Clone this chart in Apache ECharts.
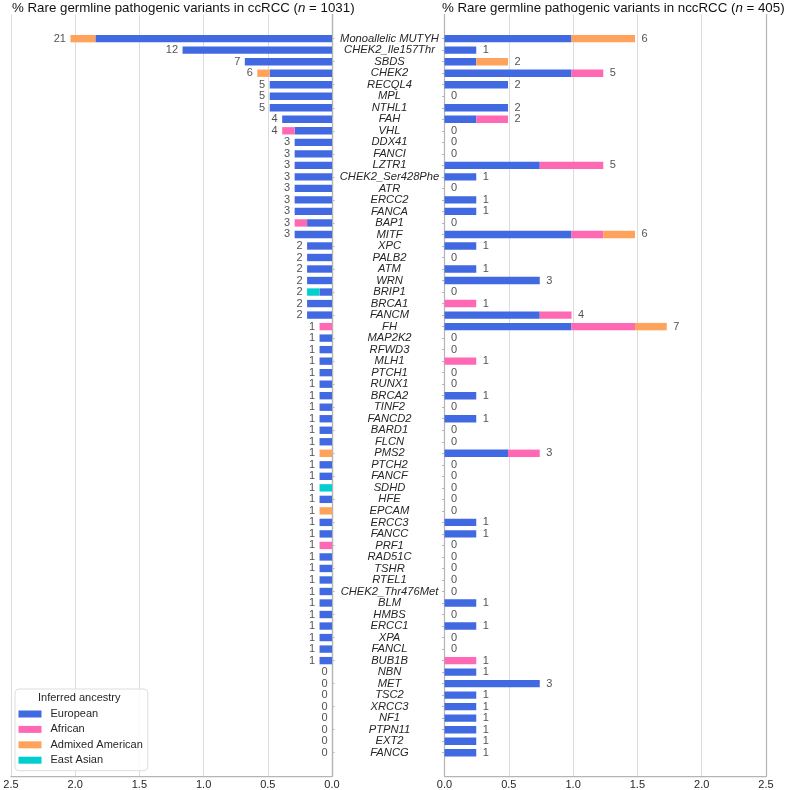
<!DOCTYPE html>
<html><head><meta charset="utf-8">
<script src="https://cdn.jsdelivr.net/npm/echarts@6/dist/echarts.min.js"></script>
<style>html,body{margin:0;padding:0;background:#fff}#c{width:787px;height:790px}</style>
</head><body><div id="c"></div>
<script>
const genes = ["Monoallelic MUTYH","CHEK2_Ile157Thr","SBDS","CHEK2","RECQL4","MPL","NTHL1","FAH","VHL","DDX41",
"FANCI","LZTR1","CHEK2_Ser428Phe","ATR","ERCC2","FANCA","BAP1","MITF","XPC","PALB2",
"ATM","WRN","BRIP1","BRCA1","FANCM","FH","MAP2K2","RFWD3","MLH1","PTCH1",
"RUNX1","BRCA2","TINF2","FANCD2","BARD1","FLCN","PMS2","PTCH2","FANCF","SDHD",
"HFE","EPCAM","ERCC3","FANCC","PRF1","RAD51C","TSHR","RTEL1","CHEK2_Thr476Met","BLM",
"HMBS","ERCC1","XPA","FANCL","BUB1B","NBN","MET","TSC2","XRCC3","NF1",
"PTPN11","EXT2","FANCG"];
const nCc = 1031, nNcc = 405;
const ancestries = ["European","African","Admixed American","East Asian"];
// counts per ancestry, ccRCC
const ccEur = [19,12,7,5,5,5,5,4,3,3, 3,3,3,3,3,3,2,3,2,2, 2,2,1,2,2,0,1,1,1,1, 1,1,1,1,1,1,0,1,1,0, 1,0,1,1,0,1,1,1,1,1, 1,1,1,1,1,0,0,0,0,0, 0,0,0];
const ccAfr = [0,0,0,0,0,0,0,0,1,0, 0,0,0,0,0,0,1,0,0,0, 0,0,0,0,0,1,0,0,0,0, 0,0,0,0,0,0,0,0,0,0, 0,0,0,0,1,0,0,0,0,0, 0,0,0,0,0,0,0,0,0,0, 0,0,0];
const ccAmr = [2,0,0,1,0,0,0,0,0,0, 0,0,0,0,0,0,0,0,0,0, 0,0,0,0,0,0,0,0,0,0, 0,0,0,0,0,0,1,0,0,0, 0,1,0,0,0,0,0,0,0,0, 0,0,0,0,0,0,0,0,0,0, 0,0,0];
const ccEas = [0,0,0,0,0,0,0,0,0,0, 0,0,0,0,0,0,0,0,0,0, 0,0,1,0,0,0,0,0,0,0, 0,0,0,0,0,0,0,0,0,1, 0,0,0,0,0,0,0,0,0,0, 0,0,0,0,0,0,0,0,0,0, 0,0,0];
// counts per ancestry, nccRCC
const ncEur = [4,1,1,4,2,0,2,1,0,0, 0,3,1,0,1,1,0,4,1,0, 1,3,0,0,3,4,0,0,0,0, 0,1,0,1,0,0,2,0,0,0, 0,0,1,1,0,0,0,0,0,1, 0,1,0,0,0,1,3,1,1,1, 1,1,1];
const ncAfr = [0,0,0,1,0,0,0,1,0,0, 0,2,0,0,0,0,0,1,0,0, 0,0,0,1,1,2,0,0,1,0, 0,0,0,0,0,0,1,0,0,0, 0,0,0,0,0,0,0,0,0,0, 0,0,0,0,1,0,0,0,0,0, 0,0,0];
const ncAmr = [2,0,1,0,0,0,0,0,0,0, 0,0,0,0,0,0,0,1,0,0, 0,0,0,0,0,1,0,0,0,0, 0,0,0,0,0,0,0,0,0,0, 0,0,0,0,0,0,0,0,0,0, 0,0,0,0,0,0,0,0,0,0, 0,0,0];
const ncEas = [0,0,0,0,0,0,0,0,0,0, 0,0,0,0,0,0,0,0,0,0, 0,0,0,0,0,0,0,0,0,0, 0,0,0,0,0,0,0,0,0,0, 0,0,0,0,0,0,0,0,0,0, 0,0,0,0,0,0,0,0,0,0, 0,0,0];
const xTicks = [0, 0.5, 1.0, 1.5, 2.0, 2.5];

const colors = {"European":"#4169E1","African":"#FF69B4","Admixed American":"#FFA35C","East Asian":"#00CED1"};
const FONT = '"Liberation Sans", Arial, "DejaVu Sans", sans-serif';
const spine = '#b5b5b5', gridc = '#dcdcdc', txt = '#262626';

const pct = (arr, n) => arr.map(v => v / n * 100);
const ccSets = [ccEur, ccAfr, ccAmr, ccEas];
const ncSets = [ncEur, ncAfr, ncAmr, ncEas];
const ccTot = genes.map((g,i) => ccSets.reduce((s,a)=>s+a[i],0));
const ncTot = genes.map((g,i) => ncSets.reduce((s,a)=>s+a[i],0));

const chart = echarts.init(document.getElementById('c'), null, {renderer:'canvas'});

const frameTop = 14.5, frameBottom = 12;
const barTop = 32.9, barBottom = 31.5;
const L = {left:11, right:455}, R = {left:444.5, right:21};

const grids = [
  {left:L.left, right:L.right, top:frameTop, bottom:frameBottom},
  {left:L.left, right:L.right, top:barTop, bottom:barBottom},
  {left:R.left, right:R.right, top:frameTop, bottom:frameBottom},
  {left:R.left, right:R.right, top:barTop, bottom:barBottom}
];
function frameX(gi, inverse) {
  return {type:'value', gridIndex:gi, min:0, max:2.5, interval:0.5, inverse:inverse,
    axisLine:{show:true, onZero:false, lineStyle:{color:spine, width:1.25}},
    axisTick:{show:false},
    axisLabel:{color:txt, fontFamily:FONT, fontSize:11, margin:3,
      formatter: v => { const t = xTicks.find(x => Math.abs(x - v) < 1e-9); return t === undefined ? '' : t.toFixed(1); }},
    splitLine:{show:true, lineStyle:{color:gridc, width:1}}};
}
function hiddenX(gi, inverse) {
  return {type:'value', gridIndex:gi, min:0, max:2.5, interval:0.5, inverse:inverse, show:false, splitLine:{show:false}};
}
function frameY(gi, pos) {
  return {type:'value', gridIndex:gi, min:0, max:1, position:pos,
    axisLine:{show:true, lineStyle:{color:spine, width:1.25}}, axisTick:{show:false}, axisLabel:{show:false}, splitLine:{show:false}};
}
const xAxes = [frameX(0,true), hiddenX(1,true), frameX(2,false), hiddenX(3,false)];
const yAxes = [
  frameY(0,'left'), frameY(0,'right'),
  {type:'category', gridIndex:1, data:genes, inverse:true, position:'right',
    axisLine:{show:false}, axisTick:{show:true, alignWithLabel:true, length:2.5, lineStyle:{color:spine}}, axisLabel:{show:false}},
  frameY(2,'left'), frameY(2,'right'),
  {type:'category', gridIndex:3, data:genes, inverse:true, position:'left',
    axisLine:{show:false}, axisTick:{show:true, alignWithLabel:true, length:2.5, lineStyle:{color:spine}},
    axisLabel:{show:true, interval:0, align:'center', margin:55, fontFamily:FONT, fontSize:11.2, fontStyle:'italic', color:txt}}
];

const series = [];
ancestries.forEach((a, k) => {
  series.push({name:a, type:'bar', xAxisIndex:1, yAxisIndex:2, stack:'cc', barWidth:'64%',
    itemStyle:{color:colors[a]}, data:pct(ccSets[k], nCc), silent:true});
});
ancestries.forEach((a, k) => {
  series.push({name:a, type:'bar', xAxisIndex:3, yAxisIndex:5, stack:'nc', barWidth:'64%',
    itemStyle:{color:colors[a]}, data:pct(ncSets[k], nNcc), silent:true});
});
series.push({type:'scatter', xAxisIndex:1, yAxisIndex:2, symbolSize:1, itemStyle:{color:'rgba(0,0,0,0)'},
  data: ccTot.map((t,i) => [t / nCc * 100, i]),
  label:{show:true, position:'left', distance:4, color:txt, fontFamily:FONT, fontSize:11,
    formatter: p => String(ccTot[p.dataIndex])}, silent:true, z:5});
series.push({type:'scatter', xAxisIndex:3, yAxisIndex:5, symbolSize:1, itemStyle:{color:'rgba(0,0,0,0)'},
  data: ncTot.map((t,i) => [t / nNcc * 100, i]),
  label:{show:true, position:'right', distance:6, color:txt, fontFamily:FONT, fontSize:11,
    formatter: p => String(ncTot[p.dataIndex])}, silent:true, z:5});

const titleStyle = {fontFamily:FONT, fontSize:13.3, fontWeight:'normal', color:'#111',
  rich:{i:{fontFamily:FONT, fontSize:13.3, fontStyle:'italic', color:'#111'}, r:{fontFamily:FONT, fontSize:13.3, color:'#111'}}};

chart.setOption({
  animation:false,
  backgroundColor:'#fff',
  title:[
    {text:'{r|% Rare germline pathogenic variants in ccRCC (}{i|n}{r| = ' + nCc + ')}', left:12, top:1.5, padding:0, textStyle:titleStyle},
    {text:'{r|% Rare germline pathogenic variants in nccRCC (}{i|n}{r| = ' + nNcc + ')}', left:442, top:1.5, padding:0, textStyle:titleStyle}
  ],
  legend:{data:ancestries, orient:'vertical', left:15, top:689, itemWidth:23, itemHeight:7, itemGap:2.4,
    padding:[18.5, 5, 4, 3.5], backgroundColor:'rgba(255,255,255,0.85)', borderColor:'#dddddd', borderWidth:1, borderRadius:4,
    icon:'rect', selectedMode:false,
    textStyle:{fontFamily:FONT, fontSize:11, color:txt, lineHeight:13, padding:[0,0,0,4]}},
  graphic:[{type:'text', left:38, top:692, style:{text:'Inferred ancestry', font:'11px ' + FONT, fill:txt}, z:100}],
  grid:grids, xAxis:xAxes, yAxis:yAxes, series:series
});
</script></body></html>
